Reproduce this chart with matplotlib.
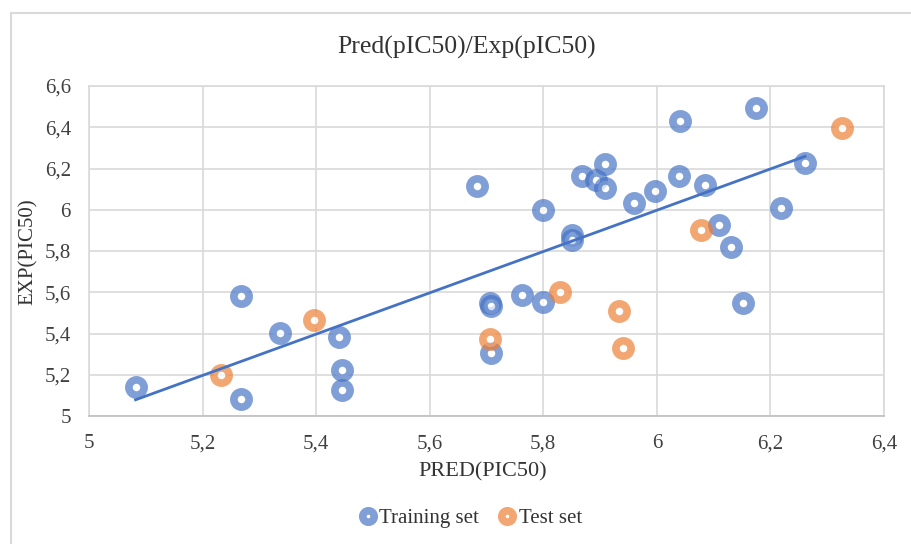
import numpy as np
import matplotlib.pyplot as plt
from matplotlib.lines import Line2D

# training set (PRED, EXP)
train_pred = [5.082, 5.268, 5.268, 5.337, 5.441, 5.446, 5.446, 5.683, 5.707, 5.708,
              5.708, 5.762, 5.799, 5.799, 5.850, 5.850, 5.869, 5.892, 5.909, 5.909,
              5.960, 5.997, 6.041, 6.039, 6.085, 6.109, 6.130, 6.151, 6.175, 6.219,
              6.261]
train_exp = [5.143, 5.584, 5.083, 5.402, 5.384, 5.225, 5.126, 6.114, 5.550, 5.535,
             5.305, 5.585, 5.554, 5.997, 5.880, 5.851, 6.166, 6.143, 6.224, 6.104,
             6.031, 6.091, 6.430, 6.166, 6.120, 5.926, 5.821, 5.550, 6.495, 6.008,
             6.226]

# test set
test_pred = [5.233, 5.397, 5.706, 5.829, 5.933, 5.941, 6.077, 6.326]
test_exp = [5.201, 5.464, 5.375, 5.603, 5.509, 5.331, 5.903, 6.396]

xticks = [5, 5.2, 5.4, 5.6, 5.8, 6, 6.2, 6.4]
yticks = [5, 5.2, 5.4, 5.6, 5.8, 6, 6.2, 6.4, 6.6]

blue = '#4472C4'
orange = '#ED7D31'
txt = '#333333'

plt.rcParams['font.family'] = ['Liberation Serif', 'DejaVu Serif']

W, H = 912, 544
fig = plt.figure(figsize=(W / 100, H / 100), dpi=100)
ax = fig.add_axes([89/W, 1 - 416/H, (884-89)/W, (416-86)/H])

# chart border (left and top edges visible)
fig.add_artist(Line2D([11.5/W, 11.5/W], [0, 1 - 12.5/H], color='#D9D9D9', lw=1.5))
fig.add_artist(Line2D([11.5/W, 1], [1 - 12.5/H, 1 - 12.5/H], color='#D9D9D9', lw=1.5))

ring = dict(linestyle='none', marker='o', ms=11, mew=5.5, markerfacecolor='white', alpha=0.68)
ax.plot(train_pred, train_exp, color=blue, markeredgecolor=blue, label='Training set', zorder=3, **ring)
ax.plot(test_pred, test_exp, color=orange, markeredgecolor=orange, label='Test set', zorder=3, **ring)

# linear trendline of training set
k, b = np.polyfit(train_pred, train_exp, 1)
xs = np.array([min(train_pred), max(train_pred)])
ax.plot(xs, k * xs + b, color=blue, lw=2, zorder=4)

ax.set_xlim(5, 6.4)
ax.set_ylim(5, 6.6)
ax.set_xticks(xticks)
ax.set_yticks(yticks)
ax.set_xticklabels([str(t).replace('.', ',') for t in xticks])
ax.set_yticklabels([str(t).replace('.', ',') for t in yticks])
ax.tick_params(length=0, labelsize=15, colors='#404040')
ax.tick_params(axis='x', pad=13)
ax.tick_params(axis='y', pad=13)
ax.grid(True, color='#D9D9D9', lw=1.2)
ax.set_axisbelow(True)
for s in ax.spines.values():
    s.set_color('#D9D9D9')
    s.set_linewidth(1.2)
ax.spines['bottom'].set_color('#BFBFBF')

fig.text(467/W, 1 - 47/H, 'Pred(pIC50)/Exp(pIC50)', fontsize=18.5, color=txt,
         ha='center', va='center')
fig.text(483/W, 1 - 472/H, 'PRED(PIC50)', fontsize=16, color=txt, ha='center', va='center')
fig.text(28/W, 1 - 252/H, 'EXP(PIC50)', fontsize=15, color=txt, ha='center', va='center',
         rotation=90)

fig.legend(*ax.get_legend_handles_labels(), loc='center', bbox_to_anchor=(469/W, 1 - 518/H),
           ncol=2, frameon=False, fontsize=15, handletextpad=0.0, columnspacing=0.8,
           markerscale=0.75, handlelength=1.1, labelcolor=txt)

fig.savefig('out.png', dpi=100)
